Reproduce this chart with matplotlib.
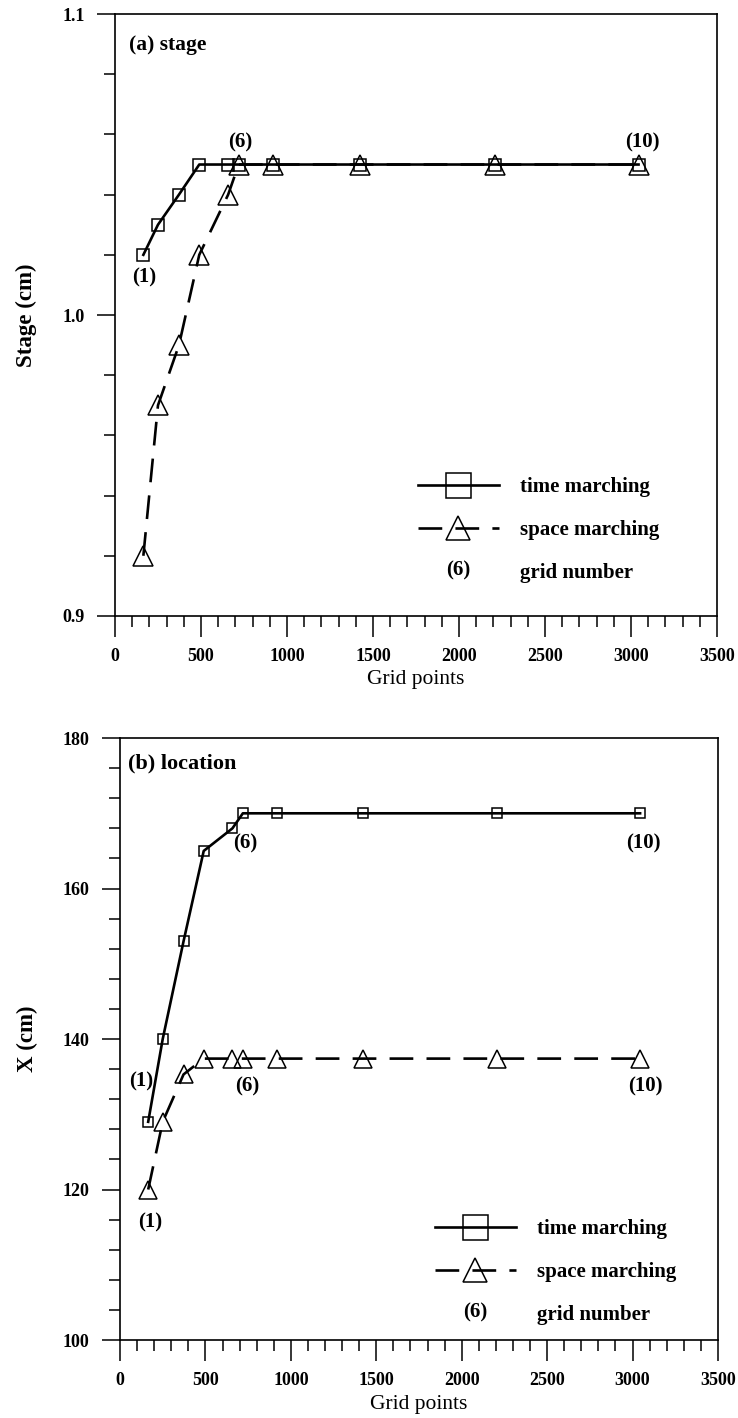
import matplotlib
matplotlib.use("Agg")
import matplotlib.pyplot as plt
from matplotlib.lines import Line2D
from matplotlib.text import Text
from matplotlib.legend_handler import HandlerBase
from matplotlib.ticker import MultipleLocator

# grid sizes (number of grid points) for grids (1) ... (10)
grid_points = [165, 250, 372, 490, 658, 719, 916, 1424, 2209, 3044]

# (a) stage, cm
stage_time = [1.02, 1.03, 1.04, 1.05, 1.05, 1.05, 1.05, 1.05, 1.05, 1.05]
stage_space = [0.92, 0.97, 0.99, 1.02, 1.04, 1.05, 1.05, 1.05, 1.05, 1.05]

# (b) location, cm
loc_time = [129, 140, 153, 165, 168, 170, 170, 170, 170, 170]
loc_space = [120, 129, 135.3, 137.4, 137.4, 137.4, 137.4, 137.4, 137.4, 137.4]

x_ticks = [0, 500, 1000, 1500, 2000, 2500, 3000, 3500]
stage_ticks = [0.9, 1.0, 1.1]
loc_ticks = [100, 120, 140, 160, 180]

SERIF = "Liberation Serif"
plt.rcParams["font.family"] = SERIF
plt.rcParams["font.weight"] = "bold"

LW = 1.9
DASH = (0, (9, 5))


class GridKey:
    def __init__(self, text):
        self.text = text


class GridKeyHandler(HandlerBase):
    # draws "(6)" in place of a line handle
    def create_artists(self, legend, orig_handle, xdescent, ydescent,
                       width, height, fontsize, trans):
        t = Text(width / 2 - xdescent, height / 2 - ydescent, orig_handle.text,
                 ha="center", va="center", fontsize=fontsize,
                 fontweight="bold", family=SERIF, transform=trans)
        return [t]


def style_axes(ax, yticks, yminor):
    ax.set_xlim(0, 3500)
    ax.set_xticks(x_ticks)
    ax.set_xticklabels([str(t) for t in x_ticks])
    ax.xaxis.set_minor_locator(MultipleLocator(100))
    ax.set_yticks(yticks)
    ax.yaxis.set_minor_locator(MultipleLocator(yminor))
    ax.tick_params(which="both", direction="out", top=False, right=False,
                   width=1.1, labelsize=13)
    ax.tick_params(axis="x", which="major", length=15, pad=8)
    ax.tick_params(axis="x", which="minor", length=8)
    ax.tick_params(axis="y", which="major", length=13, pad=9)
    ax.tick_params(axis="y", which="minor", length=8)
    for s in ax.spines.values():
        s.set_linewidth(1.2)
    ax.set_xlabel("Grid points", fontsize=15.5, fontweight="normal", labelpad=4)


def add_legend(ax, anchor):
    h_time = Line2D([], [], color="black", lw=LW, marker="s", ms=18,
                    mfc="none", mec="black", mew=1.1)
    h_space = Line2D([], [], color="black", lw=LW, ls=DASH, marker="^", ms=17,
                     mfc="none", mec="black", mew=1.1)
    ax.legend([h_time, h_space, GridKey("(6)")],
              ["time marching", "space marching", "grid number"],
              handler_map={GridKey: GridKeyHandler()},
              loc="center left", bbox_to_anchor=anchor, frameon=False,
              fontsize=15, numpoints=1, handlelength=3.9, handletextpad=1.0,
              labelspacing=1.1, borderpad=0, borderaxespad=0)


def label(ax, x, y, text, dx, dy):
    ax.annotate(text, (x, y), xytext=(dx, dy), textcoords="offset pixels",
                ha="center", va="center", fontsize=15, fontweight="bold")


fig = plt.figure(figsize=(7.38, 14.18), dpi=100)
ax1 = fig.add_axes([0.1558, 0.5656, 0.8157, 0.4245])
ax2 = fig.add_axes([0.1626, 0.0550, 0.8103, 0.4245])

# ---- (a) stage ----
ax1.plot(grid_points, stage_time, color="black", lw=LW, marker="s", ms=8,
         mfc="none", mec="black", mew=1.1, zorder=3)
ax1.plot(grid_points, stage_space, color="black", lw=LW, ls=DASH, marker="^",
         ms=14, mfc="none", mec="black", mew=1.1, zorder=4)
ax1.set_ylim(0.9, 1.1)
style_axes(ax1, stage_ticks, 0.02)
ax1.set_yticklabels(["%.1f" % t for t in stage_ticks])
ax1.set_ylabel("Stage (cm)", fontsize=16.5, fontweight="bold", labelpad=18)
ax1.text(0.023, 0.948, "(a) stage", transform=ax1.transAxes, ha="left",
         va="center", fontsize=15.5, fontweight="bold")
label(ax1, grid_points[0], stage_time[0], "(1)", 1, -23)
label(ax1, grid_points[5], stage_space[5], "(6)", 2, 22)
label(ax1, grid_points[9], stage_space[9], "(10)", 4, 22)
add_legend(ax1, (0.503, 0.143))

# ---- (b) location ----
ax2.plot(grid_points, loc_time, color="black", lw=LW, marker="s", ms=7.5,
         mfc="none", mec="black", mew=1.1, zorder=3)
ax2.plot(grid_points, loc_space, color="black", lw=LW, ls=DASH, marker="^",
         ms=13.5, mfc="none", mec="black", mew=1.1, zorder=4)
ax2.set_ylim(100, 180)
style_axes(ax2, loc_ticks, 4)
ax2.set_yticklabels([str(t) for t in loc_ticks])
ax2.set_ylabel("X (cm)", fontsize=16.5, fontweight="bold", labelpad=18)
ax2.text(0.014, 0.957, "(b) location", transform=ax2.transAxes, ha="left",
         va="center", fontsize=16, fontweight="bold")
label(ax2, grid_points[0], loc_time[0], "(1)", -7, 40)
label(ax2, grid_points[0], loc_space[0], "(1)", 2, -33)
label(ax2, grid_points[5], loc_time[5], "(6)", 2, -30)
label(ax2, grid_points[9], loc_time[9], "(10)", 3, -30)
label(ax2, grid_points[5], loc_space[5], "(6)", 4, -28)
label(ax2, grid_points[9], loc_space[9], "(10)", 5, -28)
add_legend(ax2, (0.526, 0.113))

fig.savefig("out.png", dpi=100)
